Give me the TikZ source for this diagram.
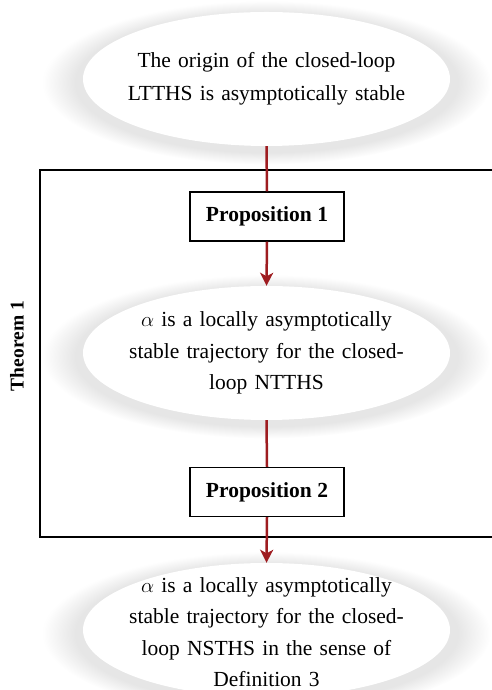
\documentclass[tikz,border=0pt]{standalone}
\usepackage{fontspec}
\setmainfont{Liberation Serif}
\usetikzlibrary{shapes.geometric,shadows,arrows.meta}
\definecolor{arrowred}{RGB}{158,28,32}
\tikzset{
  ellbox/.style={ellipse, fill=white, minimum width=367pt, minimum height=134pt, inner sep=0pt,
    circular drop shadow={shadow scale=1.22, shadow xshift=0pt, shadow yshift=-3pt, opacity=0.2}},
  elltext/.style={text width=290pt, align=center, font=\fontsize{21.5pt}{31.5pt}\selectfont, inner sep=0pt},
  propbox/.style={draw=black, line width=1.3pt, fill=white, minimum width=154pt, minimum height=49pt,
    inner sep=0pt, font=\fontsize{21.5pt}{26pt}\selectfont\bfseries},
  flow/.style={draw=arrowred, line width=2.5pt},
  flowhead/.style={flow, -{Stealth[length=13pt, width=13pt, inset=3.5pt]}}
}
\begin{document}
\begin{tikzpicture}[x=1pt, y=1pt]
\useasboundingbox (0,0) rectangle (491,690);
% theorem frame
\coordinate (thtl) at (40,520);
\coordinate (thbr) at (500,153);
\draw[line width=1.4pt] (thtl) rectangle (thbr);
\node[rotate=90, font=\fontsize{19.5pt}{24pt}\selectfont\bfseries] (thm) at (17,344) {Theorem 1};
% nodes
\node[ellbox] (e1) at (266.5,611) {};
\node[elltext, font=\fontsize{21.5pt}{33pt}\selectfont] (t1) at (e1) {The origin of the closed-loop\\ LTTHS is asymptotically stable};
\node[propbox] (p1) at (267,473.5) {Proposition 1};
\node[ellbox] (e2) at (266.5,337) {};
\node[elltext] (t2) at (e2) {$\alpha$ is a locally asymptotically\\ stable trajectory for the closed-\\ loop NTTHS};
\node[propbox] (p2) at (267,198) {Proposition 2};
\node[ellbox] (e3) at (266.5,60) {};
\node[elltext] (t3) at ([yshift=-2pt]e3) {$\alpha$ is a locally asymptotically\\ stable trajectory for the closed-\\ loop NSTHS in the sense of\\ Definition 3};
% connectors
\draw[flow] (e1.south) -- (p1.north);
\draw[flowhead] (p1.south) -- (e2.north);
\draw[flow] (e2.south) -- (p2.north);
\draw[flowhead] (p2.south) -- (e3.north);
\end{tikzpicture}
\end{document}
